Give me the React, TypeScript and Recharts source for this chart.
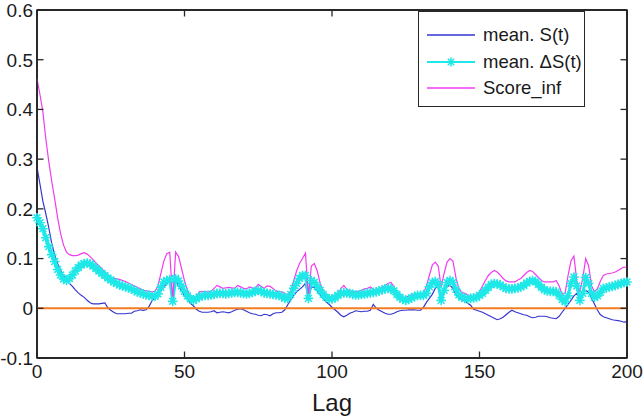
import React from "react";
import { LineChart, Line, XAxis, YAxis, ReferenceArea, CartesianGrid } from "recharts";

const lags: number[] = Array.from({ length: 201 }, (_, i) => i);

const meanS = [
  0.284, 0.25, 0.215, 0.19, 0.162, 0.13, 0.107, 0.09, 0.076, 0.066,
  0.057, 0.05, 0.044, 0.037, 0.031, 0.026, 0.022, 0.016, 0.011, 0.009,
  0.009, 0.009, 0.01, 0.011, 0.001, -0.004, -0.008, -0.011, -0.011, -0.011,
  -0.011, -0.01, -0.01, -0.006, -0.005, -0.003, -0.004, -0.003, 0.004, 0.015,
  0.022, 0.028, 0.035, 0.043, 0.05, 0.055, 0.02, 0.058, 0.045, 0.035,
  0.025, 0.018, 0.01, 0.005, -0.002, -0.006, -0.008, -0.008, -0.008, -0.007,
  -0.005, -0.009, -0.008, -0.007, -0.008, -0.009, -0.007, -0.004, -0.002, -0.001,
  -0.003, -0.006, -0.009, -0.011, -0.012, -0.014, -0.015, -0.012, -0.013, -0.015,
  -0.011, -0.009, -0.009, -0.008, -0.003, 0.007, 0.017, 0.026, 0.033, 0.038,
  0.043, 0.05, 0.019, 0.043, 0.042, 0.035, 0.027, 0.02, 0.013, 0.008,
  0.002, -0.003, -0.008, -0.014, -0.017, -0.014, -0.01, -0.008, -0.005, -0.006,
  -0.007, -0.006, -0.006, -0.004, 0.008, 0, -0.004, -0.007, -0.01, -0.012,
  -0.012, -0.01, -0.007, -0.005, -0.004, -0.004, -0.003, -0.003, -0.003, -0.004,
  -0.004, 0.002, 0.012, 0.02, 0.028, 0.04, 0.046, 0.026, 0.04, 0.044,
  0.046, 0.04, 0.028, 0.02, 0.017, 0.015, 0.01, 0.006, -0.002, -0.004,
  -0.006, -0.008, -0.011, -0.014, -0.017, -0.02, -0.023, -0.021, -0.018, -0.013,
  -0.008, -0.004, -0.007, -0.009, -0.011, -0.013, -0.014, -0.017, -0.019, -0.018,
  -0.016, -0.016, -0.016, -0.017, -0.019, -0.02, -0.021, -0.016, -0.008, 0,
  0.008, 0.016, 0.025, 0.03, 0.02, 0.03, 0.036, 0.032, 0.02, 0.008,
  -0.004, -0.013, -0.017, -0.019, -0.021, -0.023, -0.024, -0.025, -0.026, -0.028,
  -0.027,
];

const meanDeltaS = [
  0.182, 0.172, 0.16, 0.142, 0.124, 0.108, 0.094, 0.078, 0.067, 0.059,
  0.056, 0.06, 0.067, 0.075, 0.082, 0.087, 0.09, 0.091, 0.089, 0.085,
  0.08, 0.075, 0.07, 0.066, 0.061, 0.057, 0.053, 0.05, 0.047, 0.045,
  0.043, 0.041, 0.039, 0.036, 0.033, 0.031, 0.029, 0.027, 0.026, 0.024,
  0.024, 0.029, 0.042, 0.053, 0.056, 0.058, 0.014, 0.06, 0.055, 0.045,
  0.034, 0.025, 0.019, 0.016, 0.019, 0.023, 0.025, 0.026, 0.026, 0.027,
  0.028, 0.03, 0.03, 0.03, 0.029, 0.03, 0.031, 0.032, 0.032, 0.031,
  0.03, 0.029, 0.03, 0.032, 0.034, 0.036, 0.034, 0.031, 0.03, 0.029,
  0.028, 0.027, 0.026, 0.024, 0.02, 0.02, 0.028, 0.04, 0.05, 0.06,
  0.066, 0.066, 0.02, 0.056, 0.052, 0.044, 0.036, 0.028, 0.022, 0.019,
  0.019, 0.021, 0.026, 0.03, 0.031, 0.031, 0.03, 0.028, 0.027, 0.027,
  0.028, 0.029, 0.03, 0.031, 0.032, 0.033, 0.035, 0.037, 0.039, 0.04,
  0.039, 0.035, 0.028, 0.022, 0.018, 0.016, 0.018, 0.021, 0.024, 0.026,
  0.026, 0.026, 0.03, 0.043, 0.052, 0.054, 0.048, 0.016, 0.036, 0.052,
  0.056, 0.052, 0.038, 0.027, 0.022, 0.02, 0.019, 0.02, 0.021, 0.022,
  0.026, 0.03, 0.036, 0.042, 0.048, 0.05, 0.049, 0.047, 0.043, 0.04,
  0.039, 0.039, 0.04, 0.041, 0.043, 0.046, 0.051, 0.054, 0.056, 0.054,
  0.048, 0.042, 0.037, 0.035, 0.034, 0.034, 0.033, 0.026, 0.018, 0.013,
  0.025, 0.05, 0.063, 0.045, 0.016, 0.03, 0.062, 0.05, 0.03, 0.022,
  0.025, 0.032, 0.04, 0.041, 0.043, 0.044, 0.046, 0.048, 0.05, 0.052,
  0.053,
];

const scoreInf = [
  0.462, 0.43, 0.395, 0.34, 0.295, 0.255, 0.22, 0.182, 0.15, 0.127,
  0.113, 0.108, 0.106, 0.106, 0.107, 0.11, 0.112, 0.109, 0.104, 0.098,
  0.091, 0.085, 0.079, 0.073, 0.067, 0.063, 0.06, 0.059, 0.058, 0.056,
  0.054, 0.051, 0.048, 0.045, 0.042, 0.039, 0.036, 0.035, 0.034, 0.033,
  0.034, 0.045, 0.07, 0.095, 0.11, 0.113, 0.016, 0.113, 0.104, 0.08,
  0.055, 0.036, 0.024, 0.019, 0.021, 0.033, 0.034, 0.033, 0.033, 0.034,
  0.04, 0.046, 0.043, 0.04, 0.041, 0.042, 0.041, 0.04, 0.046, 0.043,
  0.04, 0.039, 0.043, 0.041, 0.04, 0.048, 0.044, 0.04, 0.045, 0.044,
  0.04, 0.035, 0.033, 0.033, 0.03, 0.026, 0.035, 0.055, 0.075, 0.09,
  0.1, 0.111, 0.025, 0.085, 0.09, 0.075, 0.05, 0.035, 0.026, 0.021,
  0.019, 0.021, 0.026, 0.04, 0.046, 0.038, 0.035, 0.034, 0.033, 0.034,
  0.036, 0.039, 0.04, 0.043, 0.038, 0.036, 0.039, 0.042, 0.046, 0.05,
  0.052, 0.043, 0.03, 0.022, 0.019, 0.021, 0.025, 0.027, 0.029, 0.027,
  0.026, 0.03, 0.045, 0.066, 0.087, 0.093, 0.085, 0.043, 0.07, 0.093,
  0.1, 0.095, 0.062, 0.04, 0.032, 0.03, 0.027, 0.023, 0.024, 0.027,
  0.033, 0.045, 0.056, 0.066, 0.072, 0.076, 0.073, 0.067, 0.06, 0.055,
  0.053, 0.053, 0.053, 0.057, 0.06, 0.066, 0.072, 0.076, 0.074, 0.068,
  0.062, 0.056, 0.053, 0.053, 0.053, 0.053, 0.056, 0.045, 0.028, 0.03,
  0.065, 0.095, 0.105, 0.055, 0.033, 0.06, 0.1, 0.085, 0.045, 0.033,
  0.04, 0.055, 0.066, 0.069, 0.07, 0.071, 0.073, 0.076, 0.08, 0.083,
  0.082,
];

const zeroLevel = 0;
const xTicks = [0, 50, 100, 150, 200];
const yTicks = [-0.1, 0, 0.1, 0.2, 0.3, 0.4, 0.5, 0.6];
const seriesNames = ["mean. S(t)", "mean. \u0394S(t)", "Score_inf"];

const data = lags.map((lag, i) => ({
  lag,
  s: meanS[i],
  ds: meanDeltaS[i],
  score: scoreInf[i],
  zero: zeroLevel,
}));

const BLUE = "#3535d0";
const CYAN = "#1ee8e8";
const MAGENTA = "#f03cf0";
const ORANGE = "#f27c22";
const AXIS = "#262626";
const TEXT = "#1a1a1a";
const FONT = "'Liberation Sans', Arial, sans-serif";
const TICK_LEN = 6.5;

const StarDot = (props: any) => {
  const { cx, cy, index } = props;
  if (cx == null || cy == null) return <g key={`d${index}`} />;
  const r = 4.8;
  const d = 3.4;
  return (
    <path
      key={`d${index}`}
      d={`M${cx - r},${cy}H${cx + r}M${cx},${cy - r}V${cy + r}M${cx - d},${cy - d}L${cx + d},${cy + d}M${cx - d},${cy + d}L${cx + d},${cy - d}`}
      stroke={CYAN}
      strokeWidth={1.6}
      fill="none"
    />
  );
};

const BottomTick = (props: any) => {
  const { x, y, payload } = props;
  return (
    <g>
      <line x1={x} y1={y} x2={x} y2={y - TICK_LEN} stroke={AXIS} strokeWidth={1.3} />
      <text x={x} y={y + 7} dy="0.71em" textAnchor="middle" fontSize={19} fill={TEXT} fontFamily={FONT}>
        {payload.value}
      </text>
    </g>
  );
};

const LeftTick = (props: any) => {
  const { x, y, payload } = props;
  return (
    <g>
      <line x1={x} y1={y} x2={x + TICK_LEN} y2={y} stroke={AXIS} strokeWidth={1.3} />
      <text x={x - 4} y={y} dy="0.36em" textAnchor="end" fontSize={19} fill={TEXT} fontFamily={FONT}>
        {payload.value}
      </text>
    </g>
  );
};

const TopTick = (props: any) => {
  const { x, y } = props;
  return <line x1={x} y1={y} x2={x} y2={y + TICK_LEN} stroke={AXIS} strokeWidth={1.3} />;
};

const RightTick = (props: any) => {
  const { x, y } = props;
  return <line x1={x} y1={y} x2={x - TICK_LEN} y2={y} stroke={AXIS} strokeWidth={1.3} />;
};

const frameRows = (p: any) => [p.offset.top, p.offset.top + p.offset.height];
const frameCols = (p: any) => [p.offset.left, p.offset.left + p.offset.width];

const LegendBox = () => {
  const colors = [BLUE, CYAN, MAGENTA];
  return (
    <div
      style={{
        position: "absolute",
        top: 11,
        left: 418,
        width: 167,
        height: 96,
        border: `1.3px solid ${AXIS}`,
        background: "#fff",
        boxSizing: "border-box",
        fontFamily: FONT,
        fontSize: 18.5,
        color: TEXT,
        paddingTop: 10,
      }}
    >
      {seriesNames.map((name, i) => (
        <div key={name} style={{ display: "flex", alignItems: "center", height: 26.5 }}>
          <svg width={64} height={16} style={{ display: "block" }}>
            <line x1={8} y1={8} x2={56} y2={8} stroke={colors[i]} strokeWidth={i === 1 ? 2.2 : 1.3} />
            {i === 1 ? (
              <path d="M27.5,8H36.5M32,3.5V12.5M28.8,4.8L35.2,11.2M28.8,11.2L35.2,4.8" stroke={CYAN} strokeWidth={1.5} />
            ) : null}
          </svg>
          <span style={{ whiteSpace: "nowrap" }}>{name}</span>
        </div>
      ))}
    </div>
  );
};

export default function App() {
  return (
    <div style={{ position: "relative", width: 644, height: 416, background: "#fff" }}>
      <style>{"body{margin:0;}"}</style>
      <LineChart
        width={644}
        height={416}
        data={data}
        margin={{ top: 9, right: 16, bottom: 0, left: 0 }}
      >
        <CartesianGrid
          stroke={AXIS}
          strokeWidth={1.4}
          strokeDasharray=""
          horizontalCoordinatesGenerator={frameRows}
          verticalCoordinatesGenerator={frameCols}
        />
        <XAxis
          dataKey="lag"
          type="number"
          domain={[0, 200]}
          ticks={xTicks}
          interval={0}
          height={58}
          tickSize={0}
          tickMargin={0}
          axisLine={{ stroke: AXIS, strokeWidth: 1.4 }}
          tickLine={false}
          tick={BottomTick}
          label={{ value: "Lag", position: "insideBottom", offset: 5, fontSize: 24, fill: TEXT, fontFamily: FONT }}
        />
        <XAxis
          xAxisId="top"
          dataKey="lag"
          type="number"
          orientation="top"
          domain={[0, 200]}
          ticks={xTicks}
          interval={0}
          height={1}
          tickSize={0}
          tickMargin={0}
          tickLine={false}
          tick={TopTick}
          axisLine={{ stroke: AXIS, strokeWidth: 1.4 }}
        />
        <YAxis
          type="number"
          domain={[-0.1, 0.6]}
          ticks={yTicks}
          interval={0}
          width={37}
          tickSize={0}
          tickMargin={0}
          axisLine={{ stroke: AXIS, strokeWidth: 1.4 }}
          tickLine={false}
          tick={LeftTick}
        />
        <YAxis
          yAxisId="right"
          orientation="right"
          type="number"
          domain={[-0.1, 0.6]}
          ticks={yTicks}
          interval={0}
          width={1}
          tickSize={0}
          tickMargin={0}
          tickLine={false}
          tick={RightTick}
          axisLine={{ stroke: AXIS, strokeWidth: 1.4 }}
        />
        <ReferenceArea
          x1={0}
          x2={200}
          y1={-0.1}
          y2={0.6}
          fill="none"
          stroke={AXIS}
          strokeWidth={1.4}
          ifOverflow="visible"
        />
        <Line
          dataKey="s"
          name={seriesNames[0]}
          stroke={BLUE}
          strokeWidth={1.2}
          dot={false}
          isAnimationActive={false}
          type="linear"
        />
        <Line
          dataKey="ds"
          name={seriesNames[1]}
          stroke={CYAN}
          strokeWidth={3}
          dot={StarDot}
          activeDot={false}
          isAnimationActive={false}
          type="linear"
        />
        <Line
          dataKey="score"
          name={seriesNames[2]}
          stroke={MAGENTA}
          strokeWidth={1.2}
          dot={false}
          isAnimationActive={false}
          type="linear"
        />
        <Line
          dataKey="zero"
          xAxisId="top"
          yAxisId="right"
          stroke={ORANGE}
          strokeWidth={2}
          dot={false}
          legendType="none"
          isAnimationActive={false}
          type="linear"
        />
      </LineChart>
      <LegendBox />
    </div>
  );
}
